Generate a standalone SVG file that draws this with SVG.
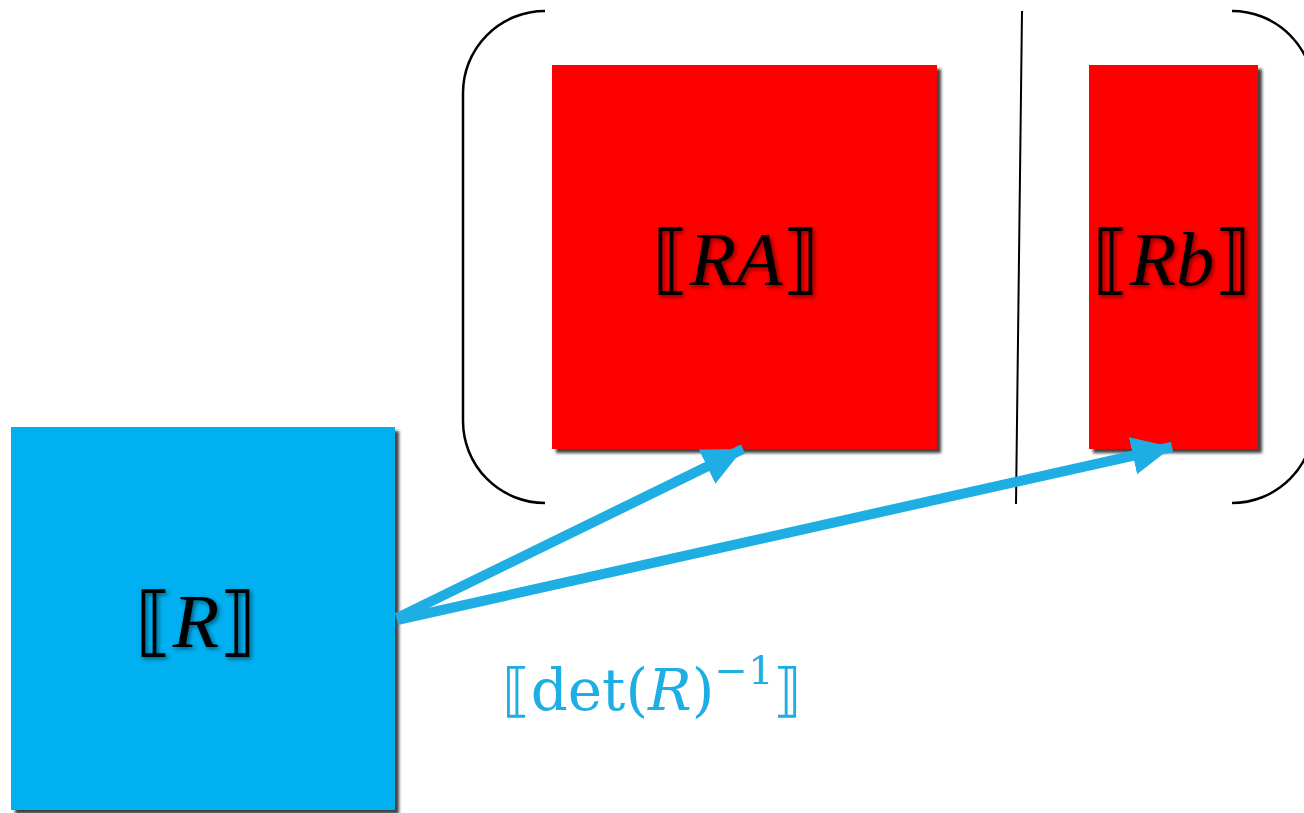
<svg xmlns="http://www.w3.org/2000/svg" width="1304" height="813" viewBox="0 0 1304 813">
<style>
.box{filter:url(#sh)}
.lbl{font-family:"Liberation Serif","DejaVu Serif",serif;font-size:76px;fill:#000;filter:url(#tsh)}
.it{font-style:italic}
.br{font-family:"DejaVu Serif","Liberation Serif",serif;font-style:normal}
.bracket{fill:none;stroke:#000;stroke-width:2.5}
.conn{stroke:#1FAEE3;stroke-width:10;fill:none;marker-end:url(#ah)}
</style>
<defs>
<filter id="sh" x="-5%" y="-5%" width="115%" height="115%">
<feDropShadow dx="4" dy="4" stdDeviation="1.5" flood-color="#222" flood-opacity="0.85"/>
</filter>
<filter id="tsh" x="-10%" y="-10%" width="130%" height="130%">
<feDropShadow dx="2" dy="2" stdDeviation="2" flood-color="#000" flood-opacity="0.5"/>
</filter>
<marker id="ah" markerUnits="userSpaceOnUse" markerWidth="44" markerHeight="40" refX="40" refY="19" orient="auto">
<path d="M0,0 L40,19 L0,38 z" fill="#1FAEE3"/>
</marker>
</defs>
<g id="bracket-left"><path class="bracket" d="M545,11 A82,82 0 0 0 463,93 L463,421 A82,82 0 0 0 545,503"/></g>
<g id="bracket-right"><path class="bracket" d="M1232,11 A82,82 0 0 1 1314,93 L1314,421 A82,82 0 0 1 1232,503"/></g>
<g id="separator"><line x1="1022" y1="11" x2="1016" y2="504" stroke="#000" stroke-width="2"/></g>
<g id="node-RA">
<rect class="box" x="552" y="65" width="385" height="384" fill="#FF0000"/>
<text class="lbl" x="736" y="285" text-anchor="middle"><tspan class="br">⟦</tspan><tspan class="it">RA</tspan><tspan class="br">⟧</tspan></text>
</g>
<g id="node-Rb">
<rect class="box" x="1089" y="65" width="169" height="384" fill="#FF0000"/>
<text class="lbl" x="1172" y="285" text-anchor="middle"><tspan class="br">⟦</tspan><tspan class="it">Rb</tspan><tspan class="br">⟧</tspan></text>
</g>
<g id="node-R">
<rect class="box" x="11" y="427" width="384" height="383" fill="#00B0F0"/>
<text class="lbl" x="196" y="647" text-anchor="middle"><tspan class="br">⟦</tspan><tspan class="it">R</tspan><tspan class="br">⟧</tspan></text>
</g>
<g id="connectors">
<line class="conn" x1="397" y1="618" x2="743" y2="449"/>
<line class="conn" x1="397" y1="620" x2="1172" y2="447"/>
</g>
<g id="label-det">
<text x="652" y="710" text-anchor="middle" font-family="DejaVu Serif, serif" font-size="58" fill="#1FAEE3"><tspan>⟦</tspan>det(<tspan font-style="italic">R</tspan>)<tspan font-size="40" dy="-26">−1</tspan><tspan dy="26">⟧</tspan></text>
</g>
</svg>
